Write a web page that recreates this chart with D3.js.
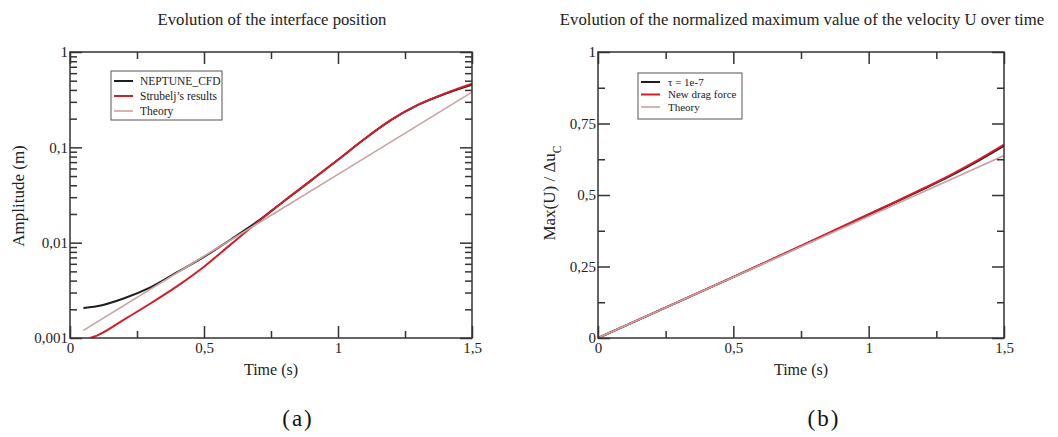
<!DOCTYPE html>
<html>
<head>
<meta charset="utf-8">
<script src="https://cdn.jsdelivr.net/npm/d3@7"></script>
<style>
  body { margin: 0; background: #fff; }
  svg { display: block; }
  svg text { font-family: "Liberation Serif", "DejaVu Serif", serif; }
</style>
</head>
<body>
<svg id="chart" width="1058" height="437"></svg>
<script>
// Panel (a): interface amplitude, log scale
const neptuneTime = [0.05, 0.1, 0.2, 0.3, 0.4, 0.5, 0.6, 0.7, 0.8, 0.9, 1.0, 1.1, 1.2, 1.3, 1.4, 1.5];
const neptuneAmp = [0.00206, 0.00215, 0.0026, 0.0034, 0.0049, 0.0071, 0.0108, 0.0167, 0.0275, 0.045, 0.074, 0.123, 0.195, 0.28, 0.365, 0.455];
const strubeljTime = [0.075, 0.1, 0.2, 0.3, 0.4, 0.5, 0.6, 0.7, 0.8, 0.9, 1.0, 1.1, 1.2, 1.3, 1.4, 1.5];
const strubeljAmp = [0.001, 0.00106, 0.00155, 0.0023, 0.0035, 0.0056, 0.0096, 0.0164, 0.0275, 0.045, 0.074, 0.123, 0.195, 0.28, 0.368, 0.465];
const theoryTimeA = [0.05, 0.5, 1.0, 1.5];
const theoryAmpA = [0.0012, 0.0072, 0.052, 0.38];

// Panel (b): normalized max velocity
const timeB = [0, 0.25, 0.5, 0.75, 1.0, 1.1, 1.2, 1.3, 1.4, 1.5];
const tauU = [0, 0.106, 0.213, 0.321, 0.431, 0.475, 0.52, 0.566, 0.617, 0.672];
const dragU = [0, 0.107, 0.214, 0.322, 0.433, 0.477, 0.522, 0.569, 0.620, 0.676];
const theoryTimeB = [0, 1.5];
const theoryUB = [0, 0.638];

// Ticks
const timeMajor = [0, 0.5, 1, 1.5];
const timeMinor = [0.25, 0.75, 1.25];
const ampMajor = [1, 0.1, 0.01, 0.001];
const velMajor = [0, 0.25, 0.5, 0.75, 1];
const velMinor = [0.125, 0.375, 0.625, 0.875];

const BLACK = '#1e1e1e', RED = '#d11f2a', THEORY = '#c9a2a2';
const SERIF = '"Liberation Serif", "DejaVu Serif", serif';
const comma = d => String(d).replace('.', ',');

const svg = d3.select('#chart');

function drawPanel(p) {
  const g = svg.append('g').attr('font-family', SERIF);
  const x = d3.scaleLinear().domain([0, 1.5]).range([p.left, p.right]);
  const y = p.y;
  const h = y.range()[0], top = y.range()[1];

  const clipId = 'clip-' + p.id;
  g.append('clipPath').attr('id', clipId)
    .append('rect')
    .attr('x', p.left).attr('y', top)
    .attr('width', p.right - p.left).attr('height', h - top);

  // series
  const lines = g.append('g').attr('clip-path', `url(#${clipId})`);
  p.series.forEach(s => {
    const line = d3.line()
      .x((d, i) => x(s.t[i]))
      .y(d => y(d))
      .curve(d3.curveMonotoneX);
    lines.append('path')
      .attr('d', line(s.v))
      .attr('fill', 'none')
      .attr('stroke', s.color)
      .attr('stroke-width', s.width)
      .attr('stroke-linejoin', 'round');
  });

  // inward ticks on all four sides
  const tickStyle = sel => {
    sel.attr('font-family', SERIF);
    sel.select('.domain').remove();
    sel.selectAll('line').attr('stroke', '#333').attr('stroke-width', 1.5);
    sel.selectAll('text').attr('fill', '#222').style('font-size', '15px');
  };

  g.append('g').attr('transform', `translate(0,${h})`)
    .call(d3.axisBottom(x).tickValues(timeMajor).tickFormat(comma).tickSize(-12).tickPadding(4))
    .call(tickStyle);
  g.append('g').attr('transform', `translate(0,${h})`)
    .call(d3.axisBottom(x).tickValues(timeMinor).tickFormat('').tickSize(-7))
    .call(tickStyle);
  g.append('g').attr('transform', `translate(0,${top})`)
    .call(d3.axisTop(x).tickValues(timeMajor).tickFormat('').tickSize(-12))
    .call(tickStyle);
  g.append('g').attr('transform', `translate(0,${top})`)
    .call(d3.axisTop(x).tickValues(timeMinor).tickFormat('').tickSize(-7))
    .call(tickStyle);

  g.append('g').attr('transform', `translate(${p.left},0)`)
    .call(d3.axisLeft(y).tickValues(p.yMajor).tickFormat(comma).tickSize(-12).tickPadding(2))
    .call(tickStyle);
  g.append('g').attr('transform', `translate(${p.left},0)`)
    .call(d3.axisLeft(y).tickValues(p.yMinor).tickFormat('').tickSize(-7))
    .call(tickStyle);
  g.append('g').attr('transform', `translate(${p.right},0)`)
    .call(d3.axisRight(y).tickValues(p.yMajor).tickFormat('').tickSize(-12))
    .call(tickStyle);
  g.append('g').attr('transform', `translate(${p.right},0)`)
    .call(d3.axisRight(y).tickValues(p.yMinor).tickFormat('').tickSize(-7))
    .call(tickStyle);

  // frame
  g.append('rect')
    .attr('x', p.left).attr('y', top)
    .attr('width', p.right - p.left).attr('height', h - top)
    .attr('fill', 'none').attr('stroke', '#333').attr('stroke-width', 1.5);

  // titles
  g.append('text')
    .attr('x', p.titleX).attr('y', 25)
    .attr('text-anchor', 'middle')
    .style('font-size', '16.7px').attr('fill', '#222')
    .text(p.title);

  g.append('text')
    .attr('x', (p.left + p.right) / 2).attr('y', 375)
    .attr('text-anchor', 'middle')
    .style('font-size', '16px').attr('fill', '#222')
    .text('Time (s)');

  const yl = g.append('text')
    .attr('transform', `translate(${p.yLabelX},${p.yLabelY}) rotate(-90)`)
    .attr('text-anchor', 'middle')
    .style('font-size', '17px').attr('fill', '#222');
  p.yLabel(yl);

  g.append('text')
    .attr('x', p.tagX).attr('y', 426)
    .attr('text-anchor', 'middle')
    .style('font-size', '23px').style('letter-spacing', '2px').attr('fill', '#111')
    .text(p.tag);

  // legend
  const L = p.legend;
  const lg = g.append('g').attr('transform', `translate(${L.x},${L.y})`);
  lg.append('rect')
    .attr('width', L.w).attr('height', L.h)
    .attr('fill', '#fff').attr('stroke', '#555').attr('stroke-width', 1);
  p.series.forEach((s, i) => {
    const yy = L.first + i * L.step;
    lg.append('line')
      .attr('x1', 3).attr('x2', 22).attr('y1', yy).attr('y2', yy)
      .attr('stroke', s.color).attr('stroke-width', s.width);
    lg.append('text')
      .attr('x', L.textX).attr('y', yy + 3.5)
      .style('font-size', L.font).attr('fill', '#222')
      .text(s.label);
  });
}

const minorLog = [];
[0.001, 0.01, 0.1].forEach(d => { for (let k = 2; k <= 9; k++) minorLog.push(d * k); });

drawPanel({
  id: 'a', left: 70, right: 472,
  y: d3.scaleLog().domain([0.001, 1]).range([338, 52]),
  yMajor: ampMajor, yMinor: minorLog,
  title: 'Evolution of the interface position', titleX: 272,
  yLabelX: 24, yLabelY: 196,
  yLabel: t => t.text('Amplitude (m)'),
  tag: '(a)', tagX: 298,
  legend: { x: 111, y: 71, w: 111, h: 49, first: 10, step: 15, textX: 29, font: '11.5px' },
  series: [
    { label: 'NEPTUNE_CFD', t: neptuneTime, v: neptuneAmp, color: BLACK, width: 2 },
    { label: 'Strubelj\u2019s results', t: strubeljTime, v: strubeljAmp, color: RED, width: 2 },
    { label: 'Theory', t: theoryTimeA, v: theoryAmpA, color: THEORY, width: 1.6 }
  ]
});

drawPanel({
  id: 'b', left: 598, right: 1004,
  y: d3.scaleLinear().domain([0, 1]).range([338, 52]),
  yMajor: velMajor, yMinor: velMinor,
  title: 'Evolution of the normalized maximum value of the velocity U over time', titleX: 802,
  yLabelX: 555, yLabelY: 193,
  yLabel: t => {
    t.append('tspan').text('Max(U) / \u0394u');
    t.append('tspan').attr('baseline-shift', 'sub').style('font-size', '11.5px').text('C');
  },
  tag: '(b)', tagX: 824,
  legend: { x: 638, y: 73, w: 104, h: 46, first: 9, step: 12.5, textX: 30, font: '11px' },
  series: [
    { label: '\u03c4 = 1e-7', t: timeB, v: tauU, color: BLACK, width: 2 },
    { label: 'New drag force', t: timeB, v: dragU, color: RED, width: 2 },
    { label: 'Theory', t: theoryTimeB, v: theoryUB, color: THEORY, width: 1.6 }
  ]
});
</script>
</body>
</html>
